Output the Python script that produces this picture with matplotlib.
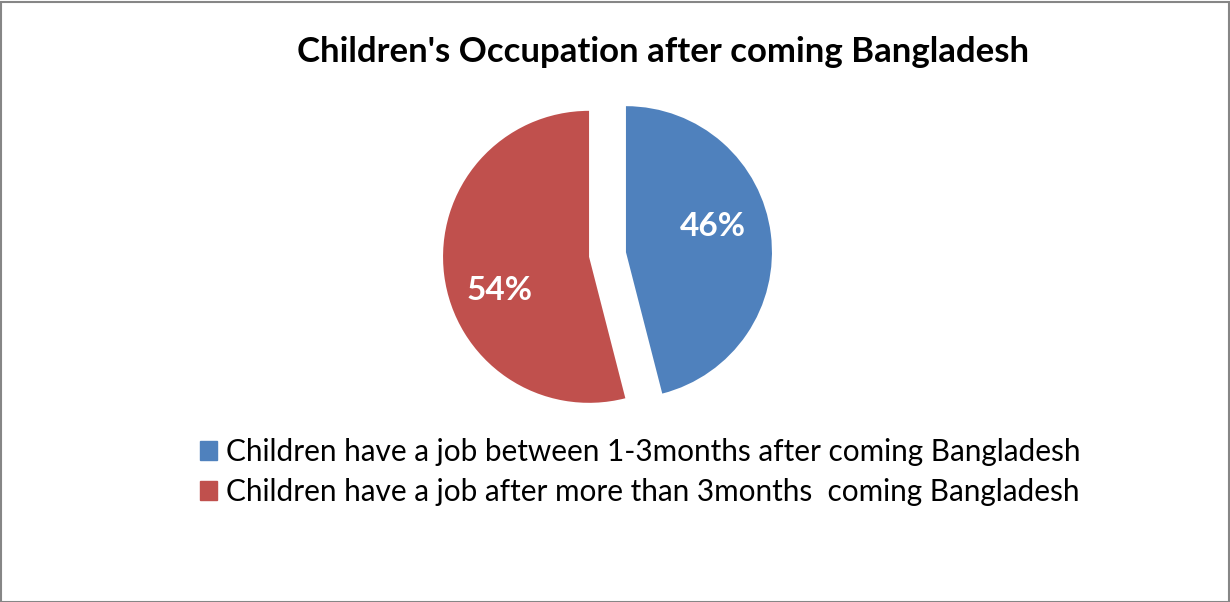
import matplotlib.pyplot as plt
import matplotlib.patches as mpatches

plt.rcParams['font.family'] = ['Lato', 'DejaVu Sans']

TITLE = "Children's Occupation after coming Bangladesh"
labels = [
    'Children have a job between 1-3months after coming Bangladesh',
    'Children have a job after more than 3months  coming Bangladesh',
]
shares = [46, 54]
colors = ['#4F81BD', '#C0504D']

W, H = 1230, 602
fig = plt.figure(figsize=(W / 100, H / 100), dpi=100)
ax = fig.add_axes([0, 0, 1, 1])

# pie in pixel units: centre, radius and slice separation
wedges, texts, autotexts = ax.pie(
    shares, colors=colors, startangle=90, counterclock=False,
    center=(607.5, H - 254.5), radius=146, explode=[18.6, 18.6],
    autopct='%1.0f%%', pctdistance=0.62, frame=True,
    wedgeprops=dict(linewidth=0),
    textprops=dict(color='white', fontsize=24, fontweight='bold'))
autotexts[0].set_position((713, H - 226))
autotexts[1].set_position((500, H - 291))
for t in autotexts:
    t.set_ha('center')
    t.set_va('center')

ax.set_xlim(0, W)
ax.set_ylim(0, H)
ax.set_aspect('equal')
ax.axis('off')

fig.text(663 / W, 1 - 52 / H, TITLE, ha='center', va='center',
         fontsize=25, fontweight='bold', color='black')

handles = [mpatches.Patch(color=c, label=l) for c, l in zip(colors, labels)]
fig.legend(handles=handles, loc='upper left',
           bbox_to_anchor=(200 / W, 1 - 438 / H), frameon=False,
           fontsize=21.4, handlelength=0.58, handleheight=0.58,
           handletextpad=0.3, labelspacing=0.4, borderpad=0,
           borderaxespad=0)

# outer chart border
fig.add_artist(mpatches.Rectangle((0.5 / W, 0.5 / H), 1 - 2 / W, 1 - 2 / H,
                                  transform=fig.transFigure, fill=False,
                                  edgecolor='#868686', linewidth=1.5))

fig.savefig('out.png', dpi=100)
